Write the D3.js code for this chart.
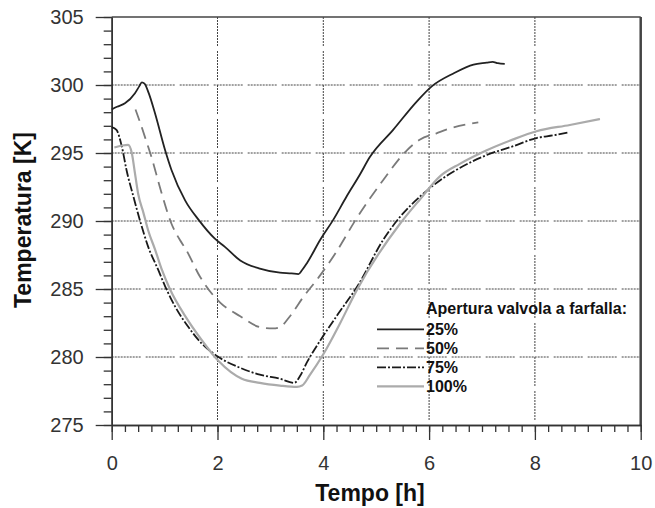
<!DOCTYPE html>
<html>
<head>
<meta charset="utf-8">
<script src="https://cdn.jsdelivr.net/npm/d3@7"></script>
<style>
  body { margin: 0; background: #fff; }
  svg { display: block; font-family: Arial, "Liberation Sans", sans-serif; }
</style>
</head>
<body>
<svg id="chart" width="655" height="508"></svg>
<script>
// values: time [h] and temperature [K]
const time25 = [0, 0.1, 0.25, 0.44, 0.52, 0.57, 0.62, 0.7, 0.82, 1.01, 1.13, 1.39, 1.64, 1.95, 2.14, 2.43, 2.8, 3.18, 3.4, 3.53, 3.6, 3.69, 3.94, 4.19, 4.44, 4.69, 4.88, 5.32, 5.77, 6.05, 6.46, 6.84, 7.09, 7.2, 7.3, 7.43]
const temp25 = [298.2, 298.4, 298.65, 299.4, 299.9, 300.2, 300.1, 299.4, 297.9, 295.2, 293.75, 291.5, 290.1, 288.7, 288.1, 287.1, 286.5, 286.2, 286.15, 286.1, 286.4, 286.9, 288.6, 290.1, 291.8, 293.4, 294.7, 296.7, 298.8, 299.9, 300.85, 301.5, 301.64, 301.7, 301.6, 301.55]

const time50 = [0.45, 0.55, 0.66, 0.76, 0.91, 1.13, 1.29, 1.39, 1.67, 1.95, 2.05, 2.43, 2.8, 3.05, 3.18, 3.37, 3.62, 3.94, 4.25, 4.63, 5.13, 5.58, 5.83, 6.14, 6.39, 6.93]
const temp50 = [298.2, 297.1, 295.8, 294.6, 292.5, 289.8, 288.6, 288.0, 285.9, 284.4, 284.0, 283.0, 282.2, 282.1, 282.2, 283.0, 284.4, 286.0, 287.75, 290.2, 293.0, 295.2, 296.0, 296.45, 296.8, 297.25]

const time75 = [0, 0.09, 0.19, 0.28, 0.41, 0.53, 0.69, 0.88, 1.01, 1.2, 1.45, 1.7, 2.02, 2.43, 2.8, 3.18, 3.45, 3.56, 3.69, 3.94, 4.25, 4.66, 5.13, 5.45, 5.83, 6.21, 6.58, 7.09, 7.59, 8.03, 8.35, 8.62]
const temp75 = [296.9, 296.7, 295.5, 293.75, 291.8, 290.1, 288.1, 286.4, 285.2, 283.7, 282.2, 281.0, 280.0, 279.2, 278.7, 278.4, 278.1, 278.6, 279.6, 281.2, 283.0, 285.3, 288.6, 290.3, 291.8, 293.0, 293.9, 294.85, 295.5, 296.1, 296.3, 296.5]

const time100 = [0.05, 0.2, 0.31, 0.38, 0.44, 0.5, 0.6, 0.69, 0.82, 0.95, 1.1, 1.39, 1.7, 2.02, 2.46, 2.8, 3.18, 3.5, 3.6, 3.75, 4.0, 4.32, 4.63, 5.45, 5.83, 6.21, 6.58, 7.09, 7.59, 8.03, 8.66, 9.23]
const temp100 = [295.4, 295.55, 295.6, 295.0, 293.5, 292.0, 290.6, 289.3, 287.9, 286.4, 285.0, 283.0, 281.25, 279.7, 278.4, 278.1, 277.9, 277.8, 277.9, 278.7, 280.2, 282.5, 284.9, 289.8, 291.6, 293.3, 294.2, 295.2, 296.0, 296.6, 297.06, 297.5]

const seriesNames = ['25%', '50%', '75%', '100%']
const xTicks = [0, 2, 4, 6, 8, 10]
const yTicks = [275, 280, 285, 290, 295, 300, 305]

const series = [
  { name: seriesNames[0], t: time25, v: temp25, color: '#222', width: 1.8, dash: null },
  { name: seriesNames[1], t: time50, v: temp50, color: '#7a7a7a', width: 1.8, dash: '12,7' },
  { name: seriesNames[2], t: time75, v: temp75, color: '#1a1a1a', width: 1.8, dash: '9,2,2,2' },
  { name: seriesNames[3], t: time100, v: temp100, color: '#ababab', width: 2.2, dash: null }
]

const svg = d3.select('#chart')
const plotLeft = 111.7, plotRight = 640.7, plotTop = 17, plotBottom = 425

const x = d3.scaleLinear().domain([0, 10]).range([plotLeft, plotRight])
const y = d3.scaleLinear().domain([275, 305]).range([plotBottom, plotTop])

// grid: fine dotted runs broken by short gaps
const gridDash = d3.range(9).map(() => '2,1').join(',') + ',2,5'
const grid = svg.append('g')
  .attr('stroke', '#444')
  .attr('stroke-width', 1)
  .attr('stroke-dasharray', gridDash)
grid.selectAll('line.v').data(xTicks.filter(d => d > 0 && d < 10)).join('line')
  .attr('class', 'v')
  .attr('x1', d => x(d)).attr('x2', d => x(d))
  .attr('y1', plotTop).attr('y2', plotBottom)
grid.selectAll('line.h').data(yTicks.filter(d => d > 275 && d < 305)).join('line')
  .attr('class', 'h')
  .attr('x1', plotLeft).attr('x2', plotRight)
  .attr('y1', d => y(d)).attr('y2', d => y(d))

// frame (top and right)
svg.append('line')
  .attr('x1', plotLeft).attr('x2', plotRight).attr('y1', plotTop).attr('y2', plotTop)
  .attr('stroke', '#444').attr('stroke-width', 1.5)
svg.append('line')
  .attr('x1', plotRight).attr('x2', plotRight).attr('y1', plotTop).attr('y2', plotBottom)
  .attr('stroke', '#444').attr('stroke-width', 2.5)

// axes
function styleAxis (g) {
  g.select('.domain').attr('stroke', '#333').attr('stroke-width', 1.5)
  g.selectAll('.tick line').attr('stroke', '#333').attr('stroke-width', 1.3)
  g.selectAll('.tick text')
    .attr('fill', '#333')
    .style('font-size', '20px')
}

svg.append('g')
  .attr('transform', `translate(0,${plotBottom})`)
  .call(d3.axisBottom(x).tickValues(d3.range(0, 10.01, 0.25)).tickSize(7).tickSizeOuter(0).tickFormat(''))
  .call(styleAxis)

svg.append('g')
  .attr('transform', `translate(0,${plotBottom})`)
  .call(d3.axisBottom(x).tickValues(xTicks).tickSize(15).tickSizeOuter(0).tickPadding(16))
  .call(styleAxis)

svg.append('g')
  .attr('transform', `translate(${plotLeft},0)`)
  .call(d3.axisLeft(y).tickValues(d3.range(275, 305.01, 1)).tickSize(8).tickSizeOuter(0).tickFormat(''))
  .call(styleAxis)

svg.append('g')
  .attr('transform', `translate(${plotLeft},0)`)
  .call(d3.axisLeft(y).tickValues(yTicks).tickSize(16).tickSizeOuter(0).tickPadding(12))
  .call(styleAxis)

// axis titles
svg.append('text')
  .attr('x', 370).attr('y', 501)
  .attr('text-anchor', 'middle')
  .style('font-size', '23px').style('font-weight', 'bold')
  .attr('fill', '#111')
  .text('Tempo [h]')

svg.append('text')
  .attr('transform', 'translate(31,220) rotate(-90)')
  .attr('text-anchor', 'middle')
  .style('font-size', '23px').style('font-weight', 'bold')
  .attr('fill', '#111')
  .text('Temperatura [K]')

// curves
const line = d3.line()
  .curve(d3.curveMonotoneX)
  .x(d => x(d[0]))
  .y(d => y(d[1]))

svg.append('g').selectAll('path').data(series).join('path')
  .attr('d', s => line(d3.zip(s.t, s.v)))
  .attr('fill', 'none')
  .attr('stroke', s => s.color)
  .attr('stroke-width', s => s.width)
  .attr('stroke-dasharray', s => s.dash)
  .attr('stroke-linejoin', 'round')

// legend
const legend = svg.append('g')
legend.append('text')
  .attr('x', 426).attr('y', 314)
  .style('font-size', '16px').style('font-weight', 'bold')
  .attr('fill', '#111')
  .text('Apertura valvola a farfalla:')

const rows = legend.selectAll('g.row').data(series).join('g')
  .attr('class', 'row')
  .attr('transform', (d, i) => `translate(0,${329.3 + i * 19})`)
rows.append('line')
  .attr('x1', 377).attr('x2', 424)
  .attr('stroke', d => d.color)
  .attr('stroke-width', d => d.width)
  .attr('stroke-dasharray', d => d.dash)
rows.append('text')
  .attr('x', 426).attr('y', 6)
  .style('font-size', '16px').style('font-weight', 'bold')
  .attr('fill', '#111')
  .text(d => d.name)
</script>
</body>
</html>
